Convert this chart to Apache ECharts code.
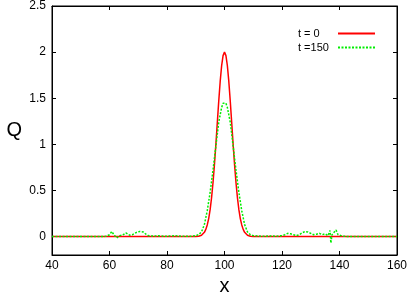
<!DOCTYPE html>
<html>
<head>
<meta charset="utf-8">
<script src="https://cdn.jsdelivr.net/npm/echarts@6/dist/echarts.min.js"></script>
<style>html,body{margin:0;padding:0;background:#fff}#c{width:409px;height:301px}</style>
</head>
<body>
<div id="c"></div>
<script>
// ---- data ----
var seriesNames = ['t = 0', 't =150'];
var xTicks = [40, 60, 80, 100, 120, 140, 160];
var yTicks = [0, 0.5, 1, 1.5, 2, 2.5];

var redX = [40, 89, 90, 91, 92, 92.5, 93, 93.5, 94, 94.5, 95, 95.5, 96, 96.5, 97, 97.5, 98, 98.5, 99, 99.5, 100,
            100.5, 101, 101.5, 102, 102.5, 103, 103.5, 104, 104.5, 105, 105.5, 106, 106.5, 107, 107.5, 108, 109, 110, 111, 160];
var redY = [0, 0, 0.001, 0.004, 0.015, 0.026, 0.046, 0.078, 0.126, 0.195, 0.292, 0.421, 0.584, 0.78, 1.0, 1.237, 1.47, 1.682, 1.852, 1.962, 2.0,
            1.962, 1.852, 1.682, 1.47, 1.237, 1.0, 0.78, 0.584, 0.421, 0.292, 0.195, 0.126, 0.078, 0.046, 0.026, 0.015, 0.004, 0.001, 0, 0];

var greenX = [40, 58, 59, 60, 60.8, 61.5, 62.5, 63.5, 64.5, 65.7, 67, 68, 69.4, 70.5, 71.7, 72.5, 73.5, 75, 77, 79, 81, 83, 85, 87, 89,
              90, 91, 92, 93, 94, 95, 96, 97, 98, 99, 99.5, 100, 100.5, 101, 102, 103, 104, 105, 106, 107, 108, 109, 110,
              112, 114, 116, 118, 120, 121, 122, 123, 124, 125, 126, 127, 128, 129, 130, 131, 132, 133, 134, 135, 136,
              136.7, 137, 137.4, 138, 138.8, 139.5, 140, 141, 143, 160];
var greenY = [0, 0, 0.005, 0.02, 0.055, 0.02, -0.015, 0.01, 0.015, 0.04, 0.015, 0.02, 0.045, 0.055, 0.05, 0.03, 0.01, 0.005, 0.008, 0.003, 0.006, 0.008, 0.003, 0.002, 0.005,
              0.01, 0.02, 0.05, 0.13, 0.28, 0.48, 0.72, 0.98, 1.24, 1.40, 1.445, 1.46, 1.445, 1.40, 1.24, 0.98, 0.72, 0.48, 0.28, 0.13, 0.05, 0.02, 0.01,
              0.005, 0.004, 0.006, 0.003, 0.01, 0.02, 0.035, 0.03, 0.02, 0.01, 0.02, 0.04, 0.055, 0.05, 0.035, 0.02, 0.025, 0.035, 0.02, 0.03, 0.01,
              0.065, -0.07, 0.02, 0.01, 0.07, 0.02, 0.03, 0.005, 0, 0];

function pairs(xs, ys) { return xs.map(function (x, i) { return [x, ys[i]]; }); }

var chart = echarts.init(document.getElementById('c'), null, {renderer: 'canvas'});
var font = 'Liberation Sans';
var axisCommon = {
  axisLine: {show: true, onZero: false, lineStyle: {color: '#000', width: 1}},
  axisTick: {show: true, inside: true, length: 4, lineStyle: {color: '#000'}},
  splitLine: {show: false}
};
chart.setOption({
  animation: false,
  backgroundColor: '#fff',
  grid: {left: 52, right: 12, top: 6, bottom: 46, show: true, borderColor: '#000', borderWidth: 1,
         containLabel: false, outerBoundsMode: 'none'},
  legend: {
    orient: 'vertical', left: 293, top: 23, align: 'right',
    itemWidth: 37, itemHeight: 10, itemGap: 3,
    itemStyle: {opacity: 0},
    formatter: '{a|{name}}',
    textStyle: {fontFamily: font, fontSize: 11, color: '#000',
                rich: {a: {width: 35, align: 'left', fontFamily: font, fontSize: 11, color: '#000'}}},
    data: seriesNames
  },
  xAxis: [
    Object.assign({}, axisCommon, {
      type: 'value', min: 40, max: 160, interval: 20, position: 'bottom',
      name: 'x', nameLocation: 'middle', nameGap: 21,
      nameTextStyle: {fontFamily: font, fontSize: 20, color: '#000'},
      axisLabel: {fontFamily: font, fontSize: 12, color: '#000', margin: 5,
                  customValues: xTicks},
      axisTick: Object.assign({}, axisCommon.axisTick, {customValues: xTicks})
    }),
    Object.assign({}, axisCommon, {
      type: 'value', min: 40, max: 160, interval: 20, position: 'top',
      axisLabel: {show: false},
      axisTick: Object.assign({}, axisCommon.axisTick, {customValues: xTicks})
    })
  ],
  yAxis: [
    Object.assign({}, axisCommon, {
      type: 'value', min: -0.2, max: 2.5, position: 'left',
      name: 'Q', nameLocation: 'middle', nameGap: 30, nameRotate: 0,
      nameTextStyle: {fontFamily: font, fontSize: 20, color: '#000', padding: [0, 0, 24, 0]},
      axisLabel: {fontFamily: font, fontSize: 12, color: '#000', margin: 6,
                  customValues: yTicks},
      axisTick: Object.assign({}, axisCommon.axisTick, {customValues: yTicks})
    }),
    Object.assign({}, axisCommon, {
      type: 'value', min: -0.2, max: 2.5, position: 'right',
      axisLabel: {show: false},
      axisTick: Object.assign({}, axisCommon.axisTick, {customValues: yTicks})
    })
  ],
  series: [
    {
      name: seriesNames[0], type: 'line', symbol: 'none', smooth: false,
      lineStyle: {color: '#ff0000', width: 1.5}, itemStyle: {color: '#ff0000'},
      data: pairs(redX, redY), z: 2
    },
    {
      name: seriesNames[1], type: 'line', symbol: 'none', smooth: false,
      lineStyle: {color: '#00ee00', width: 1.5, type: [2, 1.5]}, itemStyle: {color: '#00ee00'},
      data: pairs(greenX, greenY), z: 3
    }
  ]
});
</script>
</body>
</html>
